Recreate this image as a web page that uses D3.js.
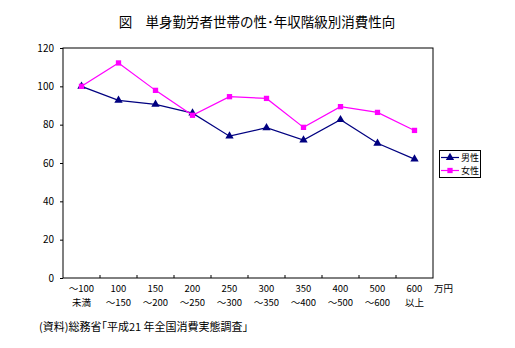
<!DOCTYPE html>
<html><head><meta charset="utf-8">
<script src="https://cdn.jsdelivr.net/npm/d3@7"></script>
<style>body{margin:0;background:#fff;}svg{display:block;}text{font-family:"Noto Sans CJK JP","Noto Sans",sans-serif;}</style>
</head><body>
<script>
const categories = [["～100","未満"],["100","～150"],["150","～200"],["200","～250"],["250","～300"],["300","～350"],["350","～400"],["400","～500"],["500","～600"],["600","以上"]];
const maleValues = [100, 92.7, 90.6, 86.0, 74.0, 78.4, 72.0, 82.6, 70.3, 62.0];
const femaleValues = [100, 112.2, 97.9, 84.9, 94.6, 93.7, 78.6, 89.4, 86.4, 77.0];
const yTicks = [0, 20, 40, 60, 80, 100, 120];
const seriesNames = ["男性", "女性"];
const titleText = "図　単身勤労者世帯の性･年収階級別消費性向";
const sourceText = "(資料)総務省｢平成21 年全国消費実態調査｣";
const unitText = "万円";

const W = 515, H = 348;
const m = {left: 63, right: 433, top: 48, bottom: 278};
const svg = d3.select("body").append("svg").attr("width", W).attr("height", H);
const latinCJK = "\"Liberation Sans\",\"Noto Sans CJK JP\",sans-serif";

const x = d3.scaleBand().domain(d3.range(categories.length)).range([m.left, m.right]);
const y = d3.scaleLinear().domain([0, 120]).range([m.bottom, m.top]);

// title
svg.append("text").attr("x", 257).attr("y", 27).attr("text-anchor", "middle")
  .attr("font-size", 13.5).text(titleText);

// plot box
svg.append("rect").attr("x", m.left).attr("y", m.top).attr("width", m.right - m.left)
  .attr("height", m.bottom - m.top).attr("fill", "none").attr("stroke", "#000").attr("stroke-width", 1);

// y axis
const yAxis = svg.append("g").attr("transform", `translate(${m.left},0)`)
  .call(d3.axisLeft(y).tickValues(yTicks).tickSize(3).tickPadding(6));
yAxis.select(".domain").remove();
yAxis.selectAll("text").attr("font-size", 10).attr("font-family", latinCJK);

// x ticks at band boundaries, pointing inward
const bounds = d3.range(1, categories.length).map(i => x(i));
svg.selectAll(".xt").data(bounds).join("line")
  .attr("x1", d => d).attr("x2", d => d).attr("y1", m.bottom).attr("y2", m.bottom - 3)
  .attr("stroke", "#000");

// x labels (two rows as separate texts)
[0, 1].forEach(r => {
  svg.selectAll(".xl" + r).data(categories).join("text")
    .attr("text-anchor", "middle").attr("font-size", 9.5).attr("font-family", latinCJK)
    .attr("x", (d, i) => x(i) + x.bandwidth() / 2).attr("y", 292 + r * 13.8)
    .text(d => d[r]);
});
svg.append("text").attr("x", 434).attr("y", 292).attr("font-size", 9.5)
  .attr("font-family", latinCJK).text(unitText);

// lines
const line = d3.line().x((d, i) => x(i) + x.bandwidth() / 2).y(d => y(d));
const colors = ["#000080", "#FF00FF"];
const data = [maleValues, femaleValues];
const symbols = [d3.symbolTriangle, d3.symbolSquare];
const symSizes = [30, 28];

data.forEach((vals, k) => {
  svg.append("path").datum(vals).attr("d", line).attr("fill", "none")
    .attr("stroke", colors[k]).attr("stroke-width", 1.2);
  svg.selectAll(".pt" + k).data(vals).join("path")
    .attr("transform", (d, i) => `translate(${x(i) + x.bandwidth() / 2},${y(d)})`)
    .attr("d", d3.symbol().type(symbols[k]).size(symSizes[k]))
    .attr("fill", colors[k]);
});

// legend
const lg = svg.append("g");
lg.append("rect").attr("x", 439.5).attr("y", 150.5).attr("width", 41).attr("height", 27)
  .attr("fill", "#fff").attr("stroke", "#000");
seriesNames.forEach((n, k) => {
  const ly = 157.5 + k * 13;
  lg.append("line").attr("x1", 441).attr("x2", 459).attr("y1", ly).attr("y2", ly)
    .attr("stroke", colors[k]).attr("stroke-width", 1.2);
  lg.append("path").attr("transform", `translate(450,${ly})`)
    .attr("d", d3.symbol().type(symbols[k]).size(symSizes[k])).attr("fill", colors[k]);
  lg.append("text").attr("x", 461).attr("y", ly + 3.5).attr("font-size", 9)
    .attr("font-family", latinCJK).text(n);
});

// source
svg.append("text").attr("x", 39).attr("y", 331).attr("font-size", 11).text(sourceText);
</script>
</body></html>
